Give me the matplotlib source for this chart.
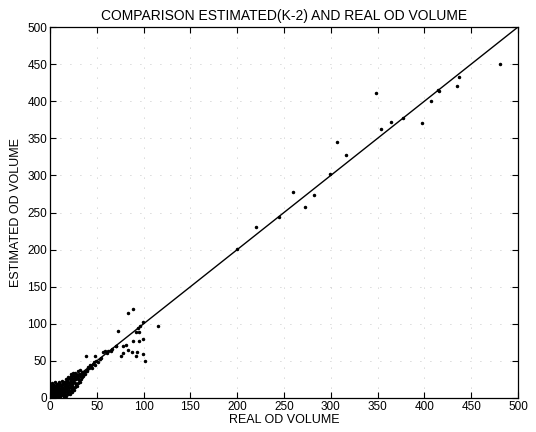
#Scatter of estimated (K-2) vs real OD volume with the y = x reference line

import matplotlib
matplotlib.use("Agg")
from matplotlib import pyplot as plt
import numpy as np

# dense cluster near the origin
real_small = [0, 1, 1, 2, 2, 3, 3, 4, 4, 5, 5, 6, 6, 7, 7, 8, 8, 9, 9, 10, 10, 11, 11, 12, 12,
              0, 1, 2, 3, 4, 5, 6, 7, 8, 9, 10, 1, 2, 3, 4, 5, 6, 7, 0, 1, 2, 3, 4, 5, 6,
              0, 0, 0, 1, 2, 3, 4, 5, 6, 7, 8, 9, 10, 11, 12, 13, 13, 14, 14, 15, 15, 16, 16,
              17, 18, 18, 19, 20, 20, 21, 22, 22, 23, 24, 24, 25, 26, 27, 27, 28, 29, 30, 31,
              32, 33, 34, 35, 12, 13, 14, 15, 16, 17, 18, 19, 20, 21, 22, 23, 24, 25, 26, 28,
              14, 15, 16, 17, 18, 19, 20, 21, 22, 23, 24, 25, 26, 27, 28, 29, 30, 31, 32, 33,
              34, 35, 36, 37, 38, 39, 40, 41, 42, 43, 44, 45, 46, 47, 48, 49, 51, 53, 55, 38,
              48, 30, 32, 27, 22, 19, 17, 8, 9, 11, 13, 10, 2, 5, 7,
              57, 59, 61, 62, 65, 66, 70]
est_small = [1, 0, 2, 1, 3, 0, 2, 1, 4, 2, 5, 1, 3, 6, 2, 4, 8, 3, 6, 5, 9, 2, 7, 10, 4,
             5, 7, 9, 11, 13, 15, 12, 14, 11, 13, 16, 4, 6, 8, 10, 8, 9, 11, 9, 12, 14, 16, 18, 11, 16,
             3, 12, 15, 15, 18, 5, 7, 0, 6, 9, 1, 10, 2, 12, 8, 5, 11, 9, 14, 7, 12, 10, 16,
             13, 11, 18, 15, 13, 20, 17, 15, 22, 19, 16, 26, 21, 24, 20, 28, 25, 30, 27, 33,
             29, 31, 35, 32, 16, 18, 20, 22, 19, 21, 24, 22, 27, 25, 29, 27, 31, 34, 30, 33,
             4, 1, 6, 3, 8, 5, 9, 6, 10, 12, 8, 14, 11, 15, 18, 16, 20, 24, 22, 26,
             28, 30, 35, 33, 37, 38, 36, 42, 40, 44, 43, 41, 46, 48, 45, 50, 49, 52, 54, 57,
             56, 36, 38, 34, 33, 28, 26, 19, 17, 19, 23, 22, 20, 21, 18,
             62, 63, 61, 64, 63, 66, 70]

# scattered points further out
real_big = [71, 73, 76, 78, 78, 81, 83, 83, 88, 89, 89, 92, 92, 93, 94, 95, 95, 96, 99, 99,
            99, 101, 115, 200, 220, 245, 260, 272, 282, 299, 316, 307, 348, 354, 364, 377,
            397, 407, 415, 416, 435, 437, 481]
est_big = [70, 90, 56, 61, 70, 71, 65, 114, 62, 77, 120, 56, 89, 62, 94, 77, 89, 97, 59, 79,
           102, 50, 97, 201, 231, 244, 277, 257, 273, 302, 327, 345, 411, 362, 372, 378,
           371, 400, 415, 414, 420, 432, 450]

ticks = list(range(0, 501, 50))

real = np.array(real_small + real_big)
est = np.array(est_small + est_big)

fig = plt.figure(figsize=(5.36, 4.32), dpi=100)
ax = fig.add_axes([50/536, 1 - 398/432, 468/536, 371/432])

fam = ['Liberation Sans', 'DejaVu Sans']

ax.plot([0, 500], [0, 500], color='black', linewidth=1.0)
ax.plot(real, est, linestyle='none', marker='o', markersize=1.5,
        markerfacecolor='black', markeredgecolor='black')

ax.set_xlim(0, 500)
ax.set_ylim(0, 500)
ax.set_xticks(ticks)
ax.set_yticks(ticks)
ax.tick_params(direction='in', length=4, width=0.8, top=True, right=True,
               labelsize=8.5, pad=2)
for lab in ax.get_xticklabels() + ax.get_yticklabels():
    lab.set_family(fam)

# very faint dotted grid, like the scanned original
ax.grid(True, color='0.7', linestyle=(0, (1, 11)), linewidth=0.6)
for s in ax.spines.values():
    s.set_linewidth(0.9)

ax.set_title('COMPARISON ESTIMATED(K-2) AND REAL OD VOLUME', fontsize=10,
             family=fam, pad=5)
ax.set_xlabel('REAL OD VOLUME', fontsize=9, family=fam, labelpad=1)
ax.set_ylabel('ESTIMATED OD VOLUME', fontsize=9, family=fam, labelpad=4)

fig.savefig('out.png', dpi=100)
